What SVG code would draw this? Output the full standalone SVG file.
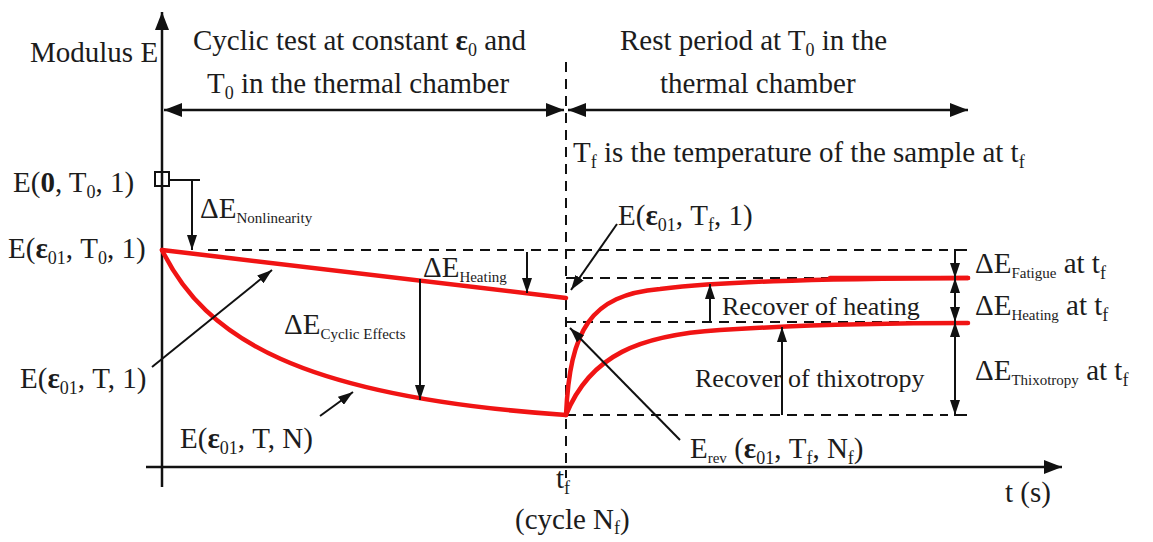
<svg xmlns="http://www.w3.org/2000/svg" width="1153" height="542" viewBox="0 0 1153 542">
<style>
text{font-family:"Liberation Serif","DejaVu Serif",serif;font-size:29px;fill:#1c1c1c}
.m{font-size:26px}
.s{font-size:18px}
.ss{font-size:15px}
.e{font-weight:bold}
.ax{stroke:#111;stroke-width:2.5;fill:none}
.ln{stroke:#111;stroke-width:2;fill:none}
.da{stroke:#111;stroke-width:2;fill:none;stroke-dasharray:10 7}
.red{stroke:#f01414;stroke-width:4.5;fill:none;stroke-linecap:round}
</style>
<defs>
<marker id="big" markerUnits="userSpaceOnUse" markerWidth="20" markerHeight="14" refX="18" refY="7" orient="auto-start-reverse"><path d="M0,0 L18,7 L0,14 Z" fill="#111"/></marker>
<marker id="ah" markerUnits="userSpaceOnUse" markerWidth="16" markerHeight="10" refX="15" refY="5" orient="auto-start-reverse"><path d="M0,0 L15,5 L0,10 Z" fill="#111"/></marker>
</defs>
<rect width="1153" height="542" fill="#fff"/>

<g id="axes">
<line class="ax" x1="162" y1="487" x2="162" y2="12" marker-end="url(#big)"/>
<line class="ax" x1="146" y1="467" x2="1062" y2="467" marker-end="url(#big)"/>
<line class="da" x1="566" y1="62" x2="566" y2="478"/>
<line class="ax" x1="164" y1="110" x2="564" y2="110" marker-start="url(#big)" marker-end="url(#big)"/>
<line class="ax" x1="568" y1="110" x2="968" y2="110" marker-start="url(#big)" marker-end="url(#big)"/>
</g>

<g id="guides">
<line class="da" x1="208" y1="250" x2="948" y2="250"/>
<line class="da" x1="566" y1="278" x2="948" y2="278"/>
<line class="da" x1="566" y1="322" x2="948" y2="322"/>
<line class="da" x1="566" y1="415" x2="948" y2="415"/>
<rect x="155" y="172" width="14" height="14" fill="none" stroke="#111" stroke-width="2"/>
</g>

<g id="curves">
<line class="red" x1="162" y1="250" x2="566" y2="298"/>
<path class="red" d="M162,250 C205,338 300,397 566,415"/>
<path class="red" d="M566,415 C570,330 590,295 660,289 C720,282 800,279 968,278"/>
<line class="red" x1="830" y1="278" x2="968" y2="278" stroke-width="6"/>
<path class="red" d="M566,415 C590,355 640,335 720,330 C800,325 880,323 968,323"/>
</g>

<g id="connectors">
<polyline class="ln" points="169,180 200,180"/>
<line class="ln" x1="192" y1="180" x2="192" y2="250" marker-end="url(#ah)"/>
<line class="ln" x1="527" y1="252" x2="527" y2="293" marker-end="url(#ah)"/>
<line class="ln" x1="420" y1="279" x2="420" y2="400" marker-end="url(#ah)"/>
<line class="ln" x1="152" y1="367" x2="272" y2="270" marker-end="url(#ah)"/>
<line class="ln" x1="320" y1="416" x2="353" y2="392" marker-end="url(#ah)"/>
<line class="ln" x1="617" y1="224" x2="571" y2="290" marker-end="url(#ah)"/>
<line class="ln" x1="680" y1="440" x2="570" y2="328" marker-end="url(#ah)"/>
<line class="ln" x1="710" y1="322" x2="710" y2="284" marker-end="url(#ah)"/>
<line class="ln" x1="782" y1="415" x2="782" y2="327" marker-end="url(#ah)"/>
<polyline class="ln" points="967,250 955,250 955,278"/>
<line class="ln" x1="955" y1="252" x2="955" y2="278" marker-end="url(#ah)"/>
<line class="ln" x1="955" y1="278" x2="955" y2="322" marker-start="url(#ah)" marker-end="url(#ah)"/>
<line class="ln" x1="955" y1="322" x2="955" y2="415" marker-start="url(#ah)" marker-end="url(#ah)"/>
<polyline class="ln" points="955,405 955,415 967,415"/>
</g>

<g id="label-modulus"><text x="30" y="62">Modulus E</text></g>
<g id="label-cyclic"><text x="193" y="50">Cyclic test at constant <tspan class="e">ε</tspan><tspan class="s" dy="6">0</tspan><tspan dy="-6"> and</tspan></text>
<text x="207" y="93">T<tspan class="s" dy="6">0</tspan><tspan dy="-6"> in the thermal chamber</tspan></text></g>
<g id="label-rest"><text x="620" y="50">Rest period at T<tspan class="s" dy="6">0</tspan><tspan dy="-6"> in the</tspan></text>
<text x="660" y="93">thermal chamber</text></g>
<g id="label-tf-note"><text x="573" y="162">T<tspan class="s" dy="6">f</tspan><tspan dy="-6"> is the temperature of the sample at t</tspan><tspan class="s" dy="6">f</tspan></text></g>
<g id="label-e0"><text x="13" y="192">E(<tspan class="e">0</tspan>, T<tspan class="s" dy="6">0</tspan><tspan dy="-6">, 1)</tspan></text></g>
<g id="label-nonlin"><text x="200" y="218">ΔE<tspan class="ss" dy="5">Nonlinearity</tspan></text></g>
<g id="label-eps0"><text x="8" y="258">E(<tspan class="e">ε</tspan><tspan class="s" dy="6">01</tspan><tspan dy="-6">, T</tspan><tspan class="s" dy="6">0</tspan><tspan dy="-6">, 1)</tspan></text></g>
<g id="label-heating"><text x="423" y="277">ΔE<tspan class="ss" dy="5">Heating</tspan></text></g>
<g id="label-cyclic-eff"><text x="284" y="334">ΔE<tspan class="ss" dy="5">Cyclic Effects</tspan></text></g>
<g id="label-et1"><text x="20" y="388">E(<tspan class="e">ε</tspan><tspan class="s" dy="6">01</tspan><tspan dy="-6">, T, 1)</tspan></text></g>
<g id="label-etn"><text x="180" y="448">E(<tspan class="e">ε</tspan><tspan class="s" dy="6">01</tspan><tspan dy="-6">, T, N)</tspan></text></g>
<g id="label-etf1"><text x="618" y="225">E(<tspan class="e">ε</tspan><tspan class="s" dy="6">01</tspan><tspan dy="-6">, T</tspan><tspan class="s" dy="6">f</tspan><tspan dy="-6">, 1)</tspan></text></g>
<g id="label-erev"><text x="690" y="458">E<tspan class="ss" dy="5">rev</tspan><tspan dy="-5"> (</tspan><tspan class="e">ε</tspan><tspan class="s" dy="6">01</tspan><tspan dy="-6">, T</tspan><tspan class="s" dy="6">f</tspan><tspan dy="-6">, N</tspan><tspan class="s" dy="6">f</tspan><tspan dy="-6">)</tspan></text></g>
<g id="label-rec-heat"><text class="m" x="722" y="315">Recover of heating</text></g>
<g id="label-rec-thix"><text class="m" x="695" y="387">Recover of thixotropy</text></g>
<g id="label-fatigue"><text x="975" y="273">ΔE<tspan class="ss" dy="5">Fatigue</tspan><tspan dy="-5"> at t</tspan><tspan class="s" dy="6">f</tspan></text></g>
<g id="label-heat-tf"><text x="975" y="315">ΔE<tspan class="ss" dy="5">Heating</tspan><tspan dy="-5"> at t</tspan><tspan class="s" dy="6">f</tspan></text></g>
<g id="label-thix-tf"><text x="975" y="380">ΔE<tspan class="ss" dy="5">Thixotropy</tspan><tspan dy="-5"> at t</tspan><tspan class="s" dy="6">f</tspan></text></g>
<g id="label-tf"><text x="556" y="488">t<tspan class="s" dy="6">f</tspan></text></g>
<g id="label-cycle"><text x="515" y="529">(cycle N<tspan class="s" dy="5">f</tspan><tspan dy="-5">)</tspan></text></g>
<g id="label-ts"><text x="1005" y="502">t (s)</text></g>
</svg>
